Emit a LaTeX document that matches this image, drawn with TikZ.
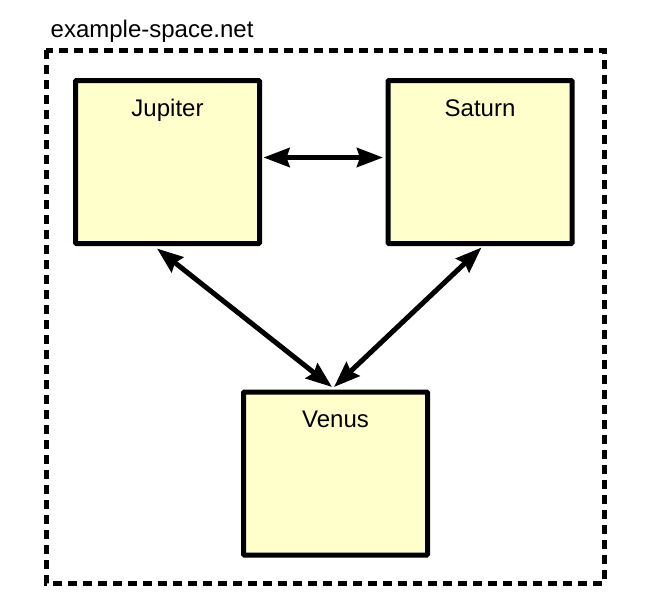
\documentclass[tikz,border=0pt]{standalone}
\usepackage{fontspec}
\setmainfont{Liberation Sans}
\usetikzlibrary{arrows.meta,calc}
\definecolor{boxfill}{RGB}{255,255,204}
\tikzset{
  planet/.style={draw=black, fill=boxfill, line width=5pt, rounded corners=1pt,
    minimum width=184pt, minimum height=163pt, inner sep=0pt, outer sep=0pt, anchor=north west},
  ptext/.style={font=\fontsize{24}{28}\selectfont, anchor=base, inner sep=0pt},
  link/.style={line width=5pt, {Stealth[length=26pt,width=19pt,inset=3pt]}-{Stealth[length=26pt,width=19pt,inset=3pt]}},
  frame/.style={draw=black, line width=5pt, dash pattern=on 9pt off 6pt}
}
\begin{document}
\begin{tikzpicture}[x=1pt,y=-1pt]
\useasboundingbox (0,0) rectangle (660,613);
\draw[frame] (46,50) rectangle (604,583);
\node[font=\fontsize{24}{28}\selectfont, anchor=base west, inner sep=0pt] (title) at (50.5,37) {example-space.net};
\node[planet, label={[ptext, yshift=-35.5pt]north:Jupiter}] (jup) at (75.5,80.5) {};
\node[planet, label={[ptext, yshift=-35.5pt]north:Saturn}] (sat) at (388,80.5) {};
\node[planet, label={[ptext, yshift=-35.5pt]north:Venus}] (ven) at (243.5,392) {};
\coordinate (h1) at ($(jup.east)+(4,-4.5)$);
\coordinate (h2) at ($(sat.west)+(-5,-4.5)$);
\coordinate (j1) at ($(jup.south)+(-10.5,5)$);
\coordinate (v1) at ($(ven.north)+(-3.5,-5)$);
\coordinate (s1) at ($(sat.south)+(1.5,4)$);
\coordinate (v2) at ($(ven.north)+(-1.5,-5)$);
\draw[link] (h1) -- (h2);
\draw[link] (j1) -- (v1);
\draw[link] (s1) -- (v2);
\end{tikzpicture}
\end{document}
